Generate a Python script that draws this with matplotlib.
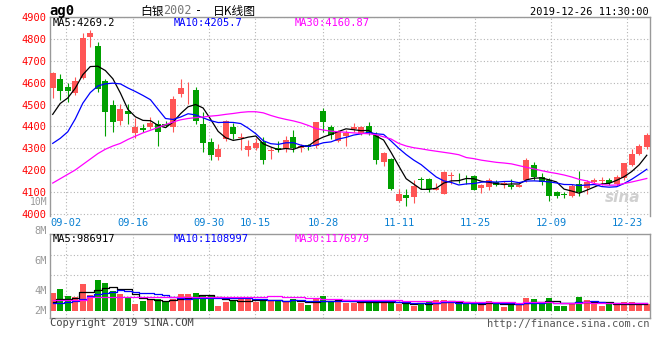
import numpy as np
import pandas as pd
import matplotlib
matplotlib.use('Agg')
import matplotlib.pyplot as plt

# ag0 白银2002 日K, 2019-08-29 .. 2019-12-26
opens = [4574, 4619, 4580, 4552, 4622, 4810, 4769, 4606, 4497, 4426,
         4470, 4368, 4393, 4395, 4411, 4411, 4399, 4550, 4569, 4565,
         4411, 4330, 4259, 4340, 4399, 4346, 4290, 4302, 4330, 4287,
         4302, 4297, 4353, 4302, 4315, 4308, 4471, 4399, 4335, 4358,
         4389, 4365, 4403, 4362, 4235, 4250, 4060, 4087, 4076, 4160,
         4158, 4110, 4091, 4172, 4165, 4165, 4174, 4117, 4120, 4146,
         4130, 4132, 4124, 4152, 4223, 4170, 4155, 4097, 4091, 4082,
         4136, 4117, 4147, 4150, 4152, 4136, 4162, 4223, 4273, 4306]
highs = [4649, 4640, 4599, 4628, 4827, 4842, 4786, 4618, 4523, 4503,
         4503, 4440, 4410, 4445, 4430, 4425, 4540, 4615, 4603, 4582,
         4464, 4345, 4318, 4430, 4414, 4368, 4338, 4347, 4350, 4305,
         4335, 4358, 4384, 4320, 4320, 4422, 4486, 4405, 4385, 4384,
         4414, 4400, 4420, 4372, 4283, 4255, 4113, 4113, 4152, 4170,
         4165, 4140, 4194, 4189, 4186, 4178, 4178, 4137, 4163, 4152,
         4150, 4158, 4136, 4253, 4238, 4188, 4162, 4102, 4100, 4136,
         4197, 4155, 4162, 4167, 4162, 4177, 4233, 4298, 4321, 4370]
lows = [4531, 4519, 4513, 4546, 4615, 4766, 4558, 4358, 4373, 4408,
        4412, 4345, 4373, 4390, 4310, 4398, 4373, 4535, 4502, 4411,
        4282, 4244, 4246, 4335, 4343, 4290, 4262, 4290, 4229, 4250,
        4282, 4282, 4282, 4282, 4290, 4302, 4373, 4340, 4327, 4312,
        4373, 4360, 4360, 4229, 4220, 4108, 4051, 4033, 4048, 4113,
        4100, 4108, 4088, 4137, 4140, 4137, 4106, 4094, 4106, 4125,
        4117, 4112, 4121, 4147, 4152, 4132, 4056, 4071, 4072, 4076,
        4079, 4091, 4136, 4132, 4132, 4127, 4155, 4218, 4268, 4298]
closes = [4643, 4562, 4562, 4610, 4807, 4830, 4569, 4464, 4421, 4480,
          4455, 4399, 4382, 4414, 4373, 4403, 4525, 4575, 4572, 4426,
          4323, 4267, 4297, 4426, 4365, 4353, 4312, 4323, 4247, 4292,
          4293, 4338, 4302, 4312, 4306, 4418, 4418, 4362, 4377, 4368,
          4399, 4395, 4368, 4247, 4278, 4113, 4091, 4071, 4125, 4156,
          4113, 4117, 4189, 4175, 4162, 4162, 4110, 4132, 4152, 4132,
          4140, 4124, 4130, 4248, 4170, 4147, 4079, 4082, 4083, 4127,
          4097, 4147, 4155, 4153, 4142, 4167, 4230, 4273, 4309, 4359]
# 成交量 (百万手)
vol_m = [2.49, 3.00, 2.07, 1.94, 3.69, 2.20, 4.24, 3.87, 2.70, 2.30,
         1.80, 0.92, 1.34, 1.47, 1.60, 1.15, 1.60, 2.30, 2.25, 2.50,
         2.00, 2.00, 0.65, 1.20, 1.40, 1.60, 1.90, 1.25, 1.47, 1.38,
         1.47, 1.24, 1.57, 1.00, 0.78, 1.70, 2.00, 1.38, 1.47, 1.10,
         1.10, 1.10, 1.24, 1.24, 1.00, 1.47, 0.90, 0.92, 0.65, 1.10,
         1.24, 1.47, 1.47, 1.15, 0.88, 0.88, 1.15, 0.88, 1.34, 0.88,
         0.55, 1.01, 0.78, 1.80, 1.61, 0.88, 1.80, 0.69, 0.69, 1.06,
         1.94, 1.47, 0.92, 0.65, 0.88, 0.88, 1.15, 1.15, 0.88, 0.88]

# 均线开头几天(之前的数据不在图内), 直接从图上读
ma5_head = [4455, 4505, 4530, 4575]
ma10_head = [4322, 4345, 4375, 4434, 4506, 4555, 4585, 4595, 4598]
ma30 = [4140, 4160, 4180, 4200, 4225, 4250, 4275, 4295, 4310, 4322,
        4340, 4355, 4370, 4382, 4395, 4408, 4420, 4430, 4436, 4440,
        4443, 4447, 4450, 4455, 4459, 4464, 4467, 4467, 4462, 4450,
        4440, 4432, 4425, 4416, 4404, 4390, 4383, 4378, 4375, 4373,
        4370, 4368, 4366, 4362, 4352, 4342, 4322, 4310, 4302, 4297,
        4291, 4286, 4281, 4276, 4270, 4257, 4252, 4245, 4240, 4235,
        4232, 4228, 4220, 4212, 4205, 4197, 4190, 4184, 4177, 4168,
        4157, 4150, 4138, 4133, 4130, 4131, 4138, 4145, 4153, 4161]
vma5_head = [1.25, 1.60, 1.60, 1.70]
vma10_head = [1.10, 1.12, 1.20, 1.30, 1.60, 2.00, 2.30, 2.50, 2.65]
vma30_head = [1.47, 1.47, 1.48, 1.48, 1.50, 1.84, 1.85, 1.85, 1.86, 1.86,
              1.86, 1.86, 1.85, 1.85, 1.85, 1.85, 1.85, 1.85, 1.86, 1.86,
              1.86, 1.86, 1.85, 1.85, 1.85, 1.85, 1.85, 1.84, 1.84]

date_labels = ['09-02', '09-16', '09-30', '10-15', '10-28',
               '11-11', '11-25', '12-09', '12-23']
date_pos = [1.73, 10.72, 20.82, 26.94, 35.98, 46.09, 56.2, 66.3, 76.4]
price_ticks = list(range(4000, 4901, 100))
vol_grid = [2.07, 4.94, 7.70]
vol_labels = ['8M', '6M', '4M', '2M']
vol_label_y = [1.036, 0.679, 0.321, 0.083]

UP = '#ff5555'
DOWN = '#00a000'
GRID = '#b4b4b4'
EDGE = '#999999'
MONO = 'DejaVu Sans Mono'
CJK = ['Noto Sans CJK SC', 'DejaVu Sans']

df = pd.DataFrame({'o': opens, 'h': highs, 'l': lows, 'c': closes, 'v': vol_m})
n = len(df)
x = np.arange(n)

ma5 = df['c'].rolling(5).mean().values
ma5[:4] = ma5_head
ma10 = df['c'].rolling(10).mean().values
ma10[:9] = ma10_head
vma5 = df['v'].rolling(5).mean().values
vma5[:4] = vma5_head
vma10 = df['v'].rolling(10).mean().values
vma10[:9] = vma10_head
vma30 = df['v'].rolling(30).mean().values
vma30[:29] = vma30_head

W, H = 660.0, 360.0
def fx(px):
    return px / W
def fy(py):
    return 1 - py / H

fig = plt.figure(figsize=(6.6, 3.6), dpi=100)
ax = fig.add_axes([fx(50.3), fy(216), fx(649.5) - fx(50.3), fy(17.3) - fy(216)])
axv = fig.add_axes([fx(50.3), fy(318), fx(649.5) - fx(50.3), fy(234) - fy(318)])

# K线
up = df['c'] >= df['o']
cols = np.where(up, UP, DOWN)
ax.vlines(x, df['l'], df['h'], colors=cols, lw=0.8, zorder=2)
body_lo = np.minimum(df['o'], df['c'])
body_h = np.maximum(np.abs(df['c'] - df['o']), 3)
ax.bar(x, body_h, bottom=body_lo, width=0.8, color=cols, lw=0, zorder=3)

ax.plot(x, ma5, color='black', lw=0.9, zorder=4)
ax.plot(x, ma10, color='#0000ff', lw=0.9, zorder=4)
ax.plot(x, ma30, color='#ff00ff', lw=0.9, zorder=4)

ax.set_xlim(-0.32, 79.36)
ax.set_ylim(3989, 4900)
ax.set_yticks(price_ticks)
ax.set_yticklabels([str(p) for p in price_ticks], color='red', family=MONO, fontsize=7.5)
ax.set_xticks(date_pos)
ax.set_xticklabels(date_labels, color='#0a80d2', family=MONO, fontsize=7.5)
ax.tick_params(length=0, pad=3, axis='y')
ax.tick_params(length=0, pad=1.5, axis='x')
ax.grid(True, color=GRID, linestyle=(0, (1, 2)), lw=0.8)
ax.set_axisbelow(True)
for s in ['left', 'top', 'right']:
    ax.spines[s].set_color(EDGE)
    ax.spines[s].set_linewidth(1.0)
ax.spines['bottom'].set_visible(False)
ax.text(-0.0055, 0.068, '10M', transform=ax.transAxes, ha='right', va='center',
        color='#999999', family=MONO, fontsize=7)
ax.text(0.985, 0.055, 'sina', transform=ax.transAxes, ha='right', va='bottom',
        color='#d0d0d0', fontsize=11, fontweight='bold', style='italic', zorder=1)

# 成交量
axv.bar(x, df['v'], width=0.8, color=cols, lw=0, zorder=2)
axv.plot(x, vma5, color='black', lw=0.9, drawstyle='steps-mid', zorder=3)
axv.plot(x, vma10, color='#0000ff', lw=0.9, drawstyle='steps-mid', zorder=3)
axv.plot(x, vma30, color='#ff00ff', lw=0.9, drawstyle='steps-mid', zorder=3)
axv.set_xlim(-0.32, 79.36)
axv.set_ylim(-1.01, 10.61)
axv.set_yticks(vol_grid)
axv.set_yticklabels([])
axv.set_xticks(date_pos)
axv.set_xticklabels([])
axv.tick_params(length=0)
axv.grid(True, color=GRID, linestyle=(0, (1, 2)), lw=0.8)
axv.set_axisbelow(True)
for s in axv.spines.values():
    s.set_color(EDGE)
    s.set_linewidth(1.0)
for lab, yy in zip(vol_labels, vol_label_y):
    axv.text(-0.0055, yy, lab, transform=axv.transAxes, ha='right', va='center',
             color='#999999', family=MONO, fontsize=7.5)

# 标题和图例文字
fig.text(fx(49), fy(11), 'ag0', family=MONO, fontsize=10, fontweight='bold', va='center')
fig.text(fx(140), fy(11), '白银', family=CJK, fontsize=8.5, va='center')
fig.text(fx(163), fy(11), '2002', family=MONO, fontsize=8.5, color='#777777', va='center')
fig.text(fx(195), fy(11), '-', family=MONO, fontsize=8.5, va='center')
fig.text(fx(213), fy(11), '日K线图', family=CJK, fontsize=8.5, va='center')
fig.text(fx(649), fy(12), '2019-12-26 11:30:00', family=MONO, fontsize=7.5,
         ha='right', va='center')

fig.text(fx(53), fy(23.5), 'MA5:4269.2', family=MONO, fontsize=7.5, va='center')
fig.text(fx(174), fy(23.5), 'MA10:4205.7', family=MONO, fontsize=7.5,
         color='#0000ff', va='center')
fig.text(fx(295), fy(23.5), 'MA30:4160.87', family=MONO, fontsize=7.5,
         color='#ff00ff', va='center')
fig.text(fx(53), fy(239), 'MA5:986917', family=MONO, fontsize=7.5, va='center')
fig.text(fx(174), fy(239), 'MA10:1108997', family=MONO, fontsize=7.5,
         color='#0000ff', va='center')
fig.text(fx(295), fy(239), 'MA30:1176979', family=MONO, fontsize=7.5,
         color='#ff00ff', va='center')

fig.text(fx(50), fy(323.5), 'Copyright 2019 SINA.COM', family=MONO, fontsize=7.5,
         color='#444444', va='center')
fig.text(fx(649), fy(324), 'http://finance.sina.com.cn', family=MONO, fontsize=7.5,
         color='#555555', ha='right', va='center')

fig.savefig('out.png', dpi=100)
